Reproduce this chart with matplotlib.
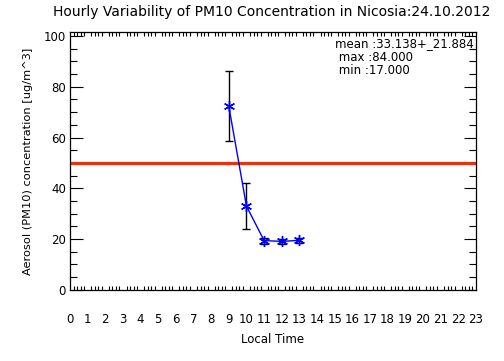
import matplotlib
matplotlib.use("Agg")
import matplotlib.pyplot as plt
from matplotlib.ticker import MultipleLocator

hours = [9, 10, 11, 12, 13]
pm10_mean = [72.3, 33.0, 19.4, 19.1, 19.5]
pm10_err = [13.8, 9.0, 1.2, 1.0, 1.0]
limit_value = 50
x_ticks = list(range(0, 24))
stats_text = ["mean :33.138+_21.884", " max :84.000", " min :17.000"]

fig = plt.figure(figsize=(5.04, 3.61), dpi=100)
ax = fig.add_axes([0.139, 0.197, 0.805, 0.714])

ax.axhline(limit_value, color="#ff2a00", lw=2.3, zorder=2)
ax.errorbar(hours, pm10_mean, yerr=pm10_err, fmt="none", ecolor="black",
            elinewidth=1.0, capsize=3, capthick=1.0, zorder=3)
ax.plot(hours, pm10_mean, color="blue", lw=1.0, marker=(6, 2, 0),
        markersize=8, markeredgewidth=1.0, zorder=4)

ax.set_xlim(0, 23)
ax.set_ylim(0, 101.5)
ax.set_xticks(x_ticks)
ax.set_xticklabels([str(h) for h in x_ticks])
ax.xaxis.set_minor_locator(MultipleLocator(0.2))
ax.set_yticks([0, 20, 40, 60, 80, 100])
ax.yaxis.set_minor_locator(MultipleLocator(5))
ax.tick_params(which="both", direction="in", top=True, right=True,
               labelsize=8.5, width=0.8)
ax.tick_params(axis="x", which="major", length=0, pad=17)
ax.tick_params(axis="x", which="minor", length=3)
ax.tick_params(axis="y", which="major", length=9, pad=3)
ax.tick_params(axis="y", which="minor", length=5)
for s in ax.spines.values():
    s.set_linewidth(0.9)

ax.set_xlabel("Local Time", fontsize=8.5, labelpad=5)
ax.set_ylabel("Aerosol (PM10) concentration [ug/m^3]", fontsize=8.2, labelpad=8)
fig.suptitle("Hourly Variability of PM10 Concentration in Nicosia:24.10.2012",
             fontsize=10, x=0.54, y=0.985)

for i, t in enumerate(stats_text):
    ax.text(0.654, 0.955 - i * 0.052, t, transform=ax.transAxes,
            fontsize=8.5, ha="left", va="center")

fig.savefig("out.png", dpi=100)
